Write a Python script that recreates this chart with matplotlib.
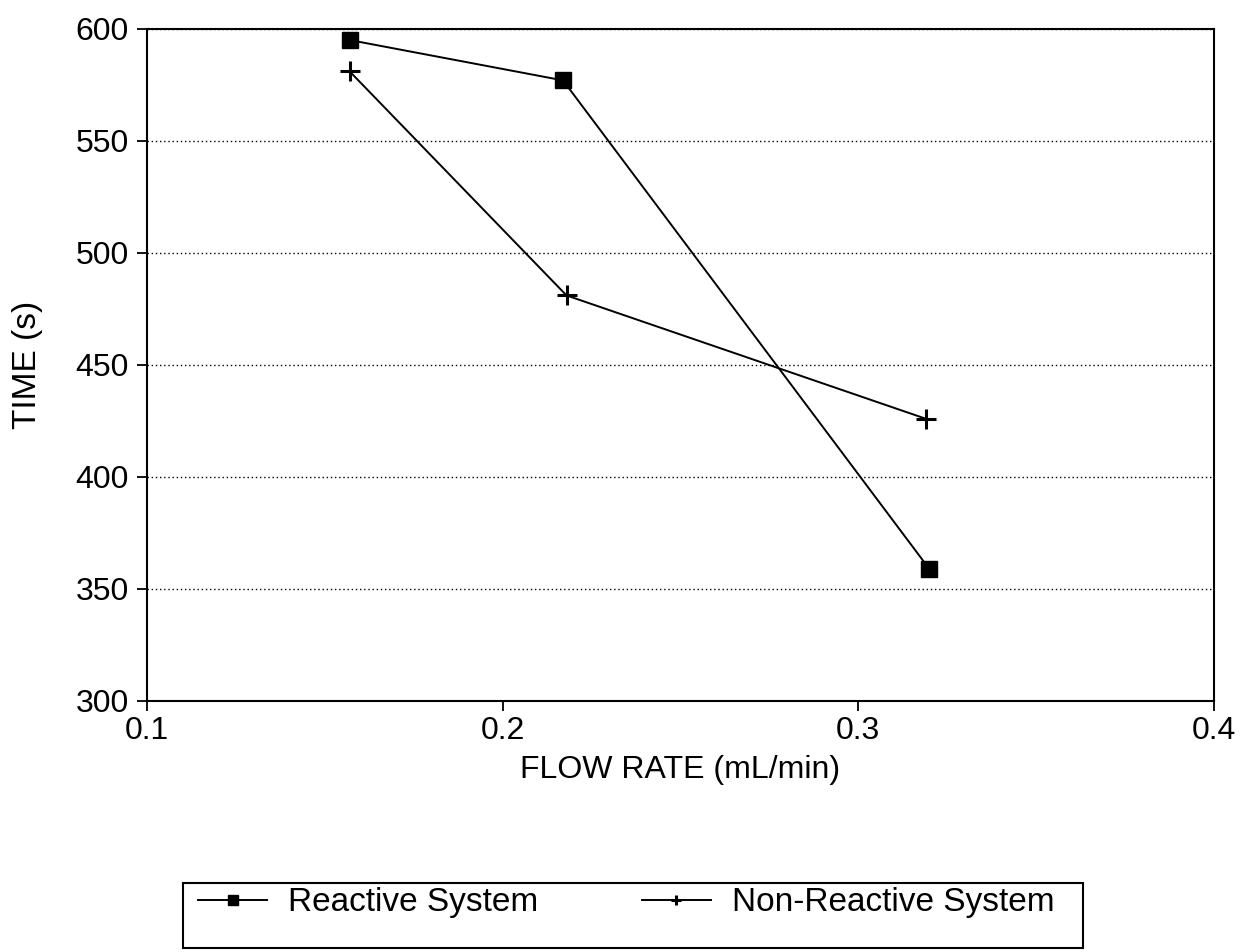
import matplotlib.pyplot as plt
from matplotlib.patches import Rectangle

# data
flow_reactive = [0.157, 0.217, 0.320]
time_reactive = [595, 577, 359]
flow_nonreactive = [0.157, 0.218, 0.319]
time_nonreactive = [581, 481, 426]

x_ticks = [0.1, 0.2, 0.3, 0.4]
x_ticklabels = ["0.1", "0.2", "0.3", "0.4"]
y_ticks = [300, 350, 400, 450, 500, 550, 600]

plt.rcParams['font.family'] = ['Liberation Sans', 'DejaVu Sans']

fig = plt.figure(figsize=(12.46, 9.52), dpi=100)
ax = fig.add_axes([0.118, 0.2637, 0.856, 0.706])

ax.plot(flow_reactive, time_reactive, color='black', lw=1.4,
        marker='s', markersize=12, label='Reactive System')
ax.plot(flow_nonreactive, time_nonreactive, color='black', lw=1.4,
        marker='+', markersize=14, markeredgewidth=2.2, label='Non-Reactive System')

ax.set_xlim(0.1, 0.4)
ax.set_ylim(300, 600)
ax.set_xticks(x_ticks)
ax.set_xticklabels(x_ticklabels)
ax.set_yticks(y_ticks)

# dotted horizontal grid
ax.yaxis.grid(True, linestyle=(0, (1, 2)), color='black', lw=1)
ax.set_axisbelow(True)

for s in ax.spines.values():
    s.set_linewidth(1.5)

ax.tick_params(axis='y', direction='out', length=7, width=1.3, labelsize=23, pad=6)
ax.tick_params(axis='x', direction='out', length=7, width=1.3, labelsize=23, pad=4)

ax.set_xlabel('FLOW RATE (mL/min)', fontsize=23, labelpad=6)
ax.set_ylabel('TIME (s)', fontsize=24)
ax.yaxis.set_label_coords(-0.0975, 0.5)

# legend box at the bottom
fig.patches.append(Rectangle((183 / 1246, 1 - 948 / 952), (1083 - 183) / 1246, (948 - 883) / 952,
                             transform=fig.transFigure, fill=False, lw=1.5, edgecolor='black'))
fig.legend(loc='center left', bbox_to_anchor=(198 / 1246, 1 - 903 / 952), ncol=2,
           frameon=False, fontsize=24, handlelength=2.07, handletextpad=0.63,
           columnspacing=3.1, markerscale=0.55, borderaxespad=0, borderpad=0)

fig.savefig('out.png', dpi=100)
